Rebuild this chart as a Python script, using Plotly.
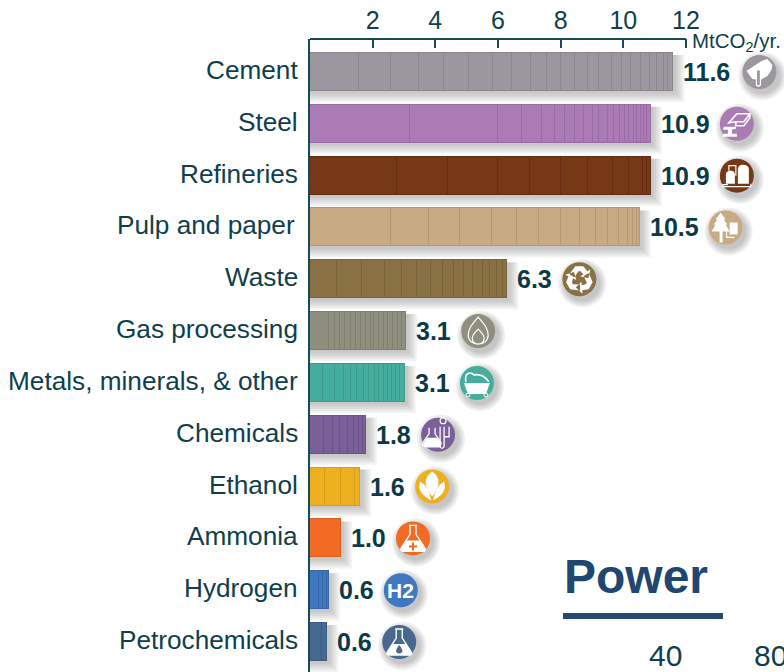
import re
import math
import plotly.graph_objects as go

categories = ["Cement", "Steel", "Refineries", "Pulp and paper", "Waste", "Gas processing",
              "Metals, minerals, & other", "Chemicals", "Ethanol", "Ammonia", "Hydrogen", "Petrochemicals"]
totals = [11.6, 10.9, 10.9, 10.5, 6.3, 3.1, 3.1, 1.8, 1.6, 1.0, 0.6, 0.6]

cement = [1.57, 1.01, .90, .80, .80, .77, .60, .59, .52, .45, .45, .40, .38, .41, .31, .30, .29, .31, .23, .21, .14, .16]
steel = [3.19, 2.80, .79, .62, .41, .34, .30, .30, .28, .21, .26, .21, .19, .16, .13, .14, .11, .11, .11, .11, .11]
refineries = [2.79, 1.60, 1.61, 1.01, .99, .86, .81, .50, .46, .13, .12]
pulp = [2.59, 1.20, 1.01, 1.00, .80, .70, .70, .61, .51, .38, .35, .31, .16, .11, .09]
waste = [.87, .78, .73, .55, .47, .45, .38, .36, .32, .28, .32, .23, .23, .19, .14]
gas = [.60, .19, .17, .17, .17, .17, .17, .15, .15, .11, .15, .15, .15, .15, .15, .13, .14]
metals = [.43, .36, .30, .21, .21, .21, .17, .17, .15, .15, .13, .13, .13, .13, .15]
chemicals = [.45, .28, .23, .26, .17, .17, .13, .10]
ethanol = [.49, .49, .45, .17]
ammonia = [.99]
hydrogen = [.30, .13, .11, .06]
petro = [.38, .17]
segments = [cement, steel, refineries, pulp, waste, gas, metals, chemicals, ethanol, ammonia, hydrogen, petro]

fills = ["#9c979e", "#ab7bb5", "#763817", "#c8aa84", "#8a7144", "#8f8f80",
         "#45ad9e", "#7a5f99", "#efb020", "#f26a24", "#3f78bf", "#47698f"]
edges = ["#8b868e", "#9a6ca5", "#642c12", "#b39871", "#786239", "#7f7f71",
         "#3b9a8c", "#6c5289", "#d69d1d", "#d75d20", "#3768a8", "#3e5c7f"]

x_ticks = [2, 4, 6, 8, 10, 12]
unit_label = "MtCO<sub>2</sub>/yr."
next_panel_title = "Power"
next_panel_ticks = ["40", "80"]

INK = "#0f3f4c"
VAL = "#0b3a47"
LEFT, TOP, W, H = 310, 39, 784, 672
PW, PH = W - LEFT, H - TOP
XMAX = PW / 31.33
fx = lambda p: (p - LEFT) / PW
fy = lambda p: 1 - (p - TOP) / PH

fig = go.Figure()
for cat, segs, c, e in zip(categories, segments, fills, edges):
    for v in segs:
        fig.add_trace(go.Bar(x=[v], y=[cat], orientation="h", width=0.733, showlegend=False,
                             marker=dict(color=c, line=dict(color=e, width=1)), hoverinfo="skip"))

W_ = "#ffffff"


def conv(path, dx):
    return re.sub(r"(-?\d+\.?\d*),(-?\d+\.?\d*)",
                  lambda m: f"{float(m[1]) + dx:.2f},{-float(m[2]):.2f}", path)


FLASK_OUT = "M-4,-13 L4,-13 M-3,-13 L-3,-4 L-12,10 Q-13,13 -10,13 L10,13 Q13,13 12,10 L3,-4 L3,-13"
FLASK_FILL = "M-7,2 L7,2 L12,10 Q13,13 10,13 L-10,13 Q-13,13 -12,10 Z"


def arrows():
    out = []
    base = [(-4, -13), (4, -13), (8, -8), (11, -10), (9, -1), (1, -3), (4, -5), (1, -8), (-1, -8), (-5, -2), (-10, -5)]
    for k in range(3):
        a = k * 2 * math.pi / 3
        pts = [(x * math.cos(a) - y * math.sin(a), x * math.sin(a) + y * math.cos(a)) for x, y in base]
        out.append("M" + " L".join(f"{x:.2f},{y:.2f}" for x, y in pts) + " Z")
    return " ".join(out)


def leaf(x0, y0, cx1, cy1, cx2, cy2, x1, y1):
    return f"M{x0},{y0} Q{cx1},{cy1} {x1},{y1} Q{cx2},{cy2} {x0},{y0} Z"


NONE = "rgba(0,0,0,0)"
# each icon: list of (path, fill, stroke, stroke width)
icons = [
    [("M-13,-1 L2,-11 L8,-13 L13,-7 L12,-2 L8,4 L1,8 L-7,7 Z", W_, None, 0),
     ("M-3,-2 L1,-2 L1,13 Q-1,15 -3,13 Z", fills[0], W_, 1.2)],
    [("M-8,-1 L0,-10 L13,-10 L7,-2 L-1,-2 Z M-1,-2 L-1,2 L7,2 L13,-6 L13,-10", NONE, W_, 1.6),
     ("M-13,3 L-1,3 L-1,5 L-5,6 L-5,10 L0,10 L0,13 L-15,13 L-13,10 L-9,10 L-9,6 L-14,6 Z", W_, None, 0)],
    [("M-11,8 L-11,-1 Q-11,-5 -6,-5 Q-2,-5 -2,-1 L-2,8 Z", W_, None, 0),
     ("M1,8 L1,-6 Q1,-11 6,-11 Q12,-11 12,-6 L12,8 Z", W_, None, 0),
     ("M-8,-5 L-8,-10 L-1,-10 L-1,0 M-14,12 L-14,9 L-9,9 M-14,11 L14,11 L14,8", NONE, W_, 1.2)],
    [("M-5,-15 L0,-8 L-2,-8 L2,-3 L0,-3 L4,4 L-3,4 L-3,15 L-6,15 L-6,4 L-14,4 L-10,-3 L-12,-3 L-8,-8 L-10,-8 Z", W_, None, 0),
     ("M4,-5 L12,-5 L12,7 L4,7 Z", W_, None, 0),
     ("M1,-1 L1,10 L9,10", NONE, W_, 1.2)],
    [(arrows(), W_, None, 0)],
    [("M0,-14 C5,-8 10,-3 10,4 C10,10 5,13 0,13 C-5,13 -10,10 -10,4 C-10,-3 -5,-8 0,-14 Z "
      "M0,-2 C3,1 6,4 6,7 C6,11 3,13 0,13 C-3,13 -6,11 -6,7 C-6,4 -3,1 0,-2 Z", NONE, W_, 1.2)],
    [("M-13,0 L13,0 L9,11 L-9,11 Z", W_, None, 0),
     ("M-11,-1 C-13,-11 -6,-11 -3,-8 C2,-9 8,-7 12,-1", NONE, W_, 1.6),
     ("M-11,12 Q-11,10 -9,10 Q-7,10 -7,12 Q-7,14 -9,14 Q-11,14 -11,12 Z "
      "M7,12 Q7,10 9,10 Q11,10 11,12 Q11,14 9,14 Q7,14 7,12 Z", NONE, W_, 1)],
    [("M-9,-7 L-9,-1 L-16,9 Q-15,12 -12,12 L2,12 L3,8 L-3,-1 L-3,-7", NONE, W_, 1.3),
     ("M-11,3 L-1,3 L3,9 L2,12 L-12,12 Q-15,12 -15,9 Z", W_, None, 0),
     ("M2,-8 L2,12 Q4,15 6,12 L6,-8 M6,2 L11,2 L11,-8", NONE, W_, 1.3),
     ("M2,-14 Q2,-17 5,-17 Q8,-17 8,-14 Q8,-11 5,-11 Q2,-11 2,-14 Z", NONE, W_, 1.2)],
    [(leaf(0, 10, -13, -6, 13, -6, 0, -15), W_, None, 0),
     (leaf(-1, 14, -16, 6, -3, 0, -12, -5), W_, None, 0),
     (leaf(1, 14, 16, 6, 3, 0, 12, -5), W_, None, 0)],
    [(FLASK_OUT, NONE, W_, 1.4), (FLASK_FILL, W_, None, 0),
     ("M-1,4 L1,4 L1,7 L4,7 L4,9 L1,9 L1,12 L-1,12 L-1,9 L-4,9 L-4,7 L-1,7 Z", fills[9], None, 0)],
    [],
    [(FLASK_OUT, NONE, W_, 1.4), (FLASK_FILL, W_, None, 0),
     ("M0,3 Q4,8 3,10 Q0,13 -3,10 Q-4,8 0,3 Z", fills[11], None, 0)],
]

shapes = []
annotations = []
HALF = 19
R = 17
for cat, segs, total, c, glyphs in zip(categories, segments, totals, fills, icons):
    end = sum(segs)
    gap = 86 if total >= 10 else 72
    # bar shadow
    for e in (9, 7, 5, 3, 1):
        shapes.append(dict(type="rect", layer="below", xref="x", yref="y", xsizemode="pixel", ysizemode="pixel",
                           xanchor=end, yanchor=cat, x0=-900, x1=2 + e, y0=-(HALF + 2 + e), y1=HALF - 2,
                           fillcolor="rgba(90,90,90,0.07)", line_width=0))
    # icon shadow and disc
    for e in (7, 5, 3, 1):
        shapes.append(dict(type="circle", layer="below", xref="x", yref="y", xsizemode="pixel", ysizemode="pixel",
                           xanchor=end, yanchor=cat, x0=gap + 3 - R - e, x1=gap + 3 + R + e,
                           y0=-4 - R - e, y1=-4 + R + e, fillcolor="rgba(80,80,80,0.09)", line_width=0))
    shapes.append(dict(type="circle", layer="above", xref="x", yref="y", xsizemode="pixel", ysizemode="pixel",
                       xanchor=end, yanchor=cat, x0=gap - R, x1=gap + R, y0=-R, y1=R, fillcolor=c, line_width=0))
    for path, fill, stroke, sw in glyphs:
        shapes.append(dict(type="path", layer="above", xref="x", yref="y", xsizemode="pixel", ysizemode="pixel",
                           xanchor=end, yanchor=cat, path=conv(path, gap), fillcolor=fill,
                           line=dict(color=stroke or NONE, width=sw)))
    annotations.append(dict(x=end, y=cat, xref="x", yref="y", text=f"<b>{total:.1f}</b>", showarrow=False,
                            xanchor="left", yanchor="middle", xshift=8, yshift=0,
                            font=dict(family="Liberation Sans", size=25, color=VAL)))
    # category label, a little above the bar centre
    annotations.append(dict(x=0, y=cat, xref="x", yref="y", text=cat, showarrow=False,
                            xanchor="right", yanchor="middle", xshift=-13 if cat == "Pulp and paper" else -10,
                            yshift=2, font=dict(family="Liberation Sans", size=26.2, color=INK)))
    if cat == "Hydrogen":
        annotations.append(dict(x=end, y=cat, xref="x", yref="y", text="<b>H2</b>", showarrow=False,
                                xanchor="center", yanchor="middle", xshift=gap, yshift=0,
                                font=dict(family="Liberation Sans", size=21, color=W_)))

# axis line along the top
shapes.append(dict(type="line", xref="x", yref="paper", x0=0, x1=12, y0=1, y1=1,
                   line=dict(color="#174a57", width=2)))
# heading rule of the next panel
shapes.append(dict(type="rect", xref="paper", yref="paper", x0=fx(563), x1=fx(723), y0=fy(619), y1=fy(613),
                   fillcolor="#234a70", line_width=0))

annotations += [
    dict(x=fx(690), y=fy(42), xref="paper", yref="paper", text=unit_label, showarrow=False, xanchor="left",
         yanchor="middle", font=dict(family="Liberation Sans", size=20.5, color=INK)),
    dict(x=fx(562), y=fy(576), xref="paper", yref="paper", text=f"<b>{next_panel_title}</b>", showarrow=False,
         xanchor="left", yanchor="middle", font=dict(family="Liberation Sans", size=48, color="#1f4770")),
    dict(x=fx(665), y=fy(655), xref="paper", yref="paper", text=next_panel_ticks[0], showarrow=False,
         xanchor="center", yanchor="middle", font=dict(family="Liberation Sans", size=30, color=INK)),
    dict(x=fx(770), y=fy(655), xref="paper", yref="paper", text=next_panel_ticks[1], showarrow=False,
         xanchor="center", yanchor="middle", font=dict(family="Liberation Sans", size=30, color=INK)),
]

fig.update_layout(
    width=W, height=H, barmode="stack", bargap=0, plot_bgcolor="white", paper_bgcolor="white",
    margin=dict(l=LEFT, r=0, t=TOP, b=0, autoexpand=False),
    shapes=shapes, annotations=annotations,
    font=dict(family="Liberation Sans", color=INK),
    xaxis=dict(side="top", range=[0, XMAX], tickmode="array", tickvals=x_ticks, ticks="inside", ticklen=9,
               tickwidth=1.5, tickcolor="#174a57", showgrid=False, zeroline=False, showline=False,
               tickfont=dict(size=25, color=INK), ticklabelstandoff=4),
    yaxis=dict(type="category", categoryorder="array", categoryarray=categories,
               range=[(H - 72) / 51.82, -(72 - TOP) / 51.82], showgrid=False, zeroline=False, showline=True,
               linecolor="#174a57", linewidth=2, ticks="", showticklabels=False),
)
fig.write_html("out.html", config=dict(displayModeBar=False),
               post_script="document.body.style.margin='0';document.body.style.overflow='hidden';")
